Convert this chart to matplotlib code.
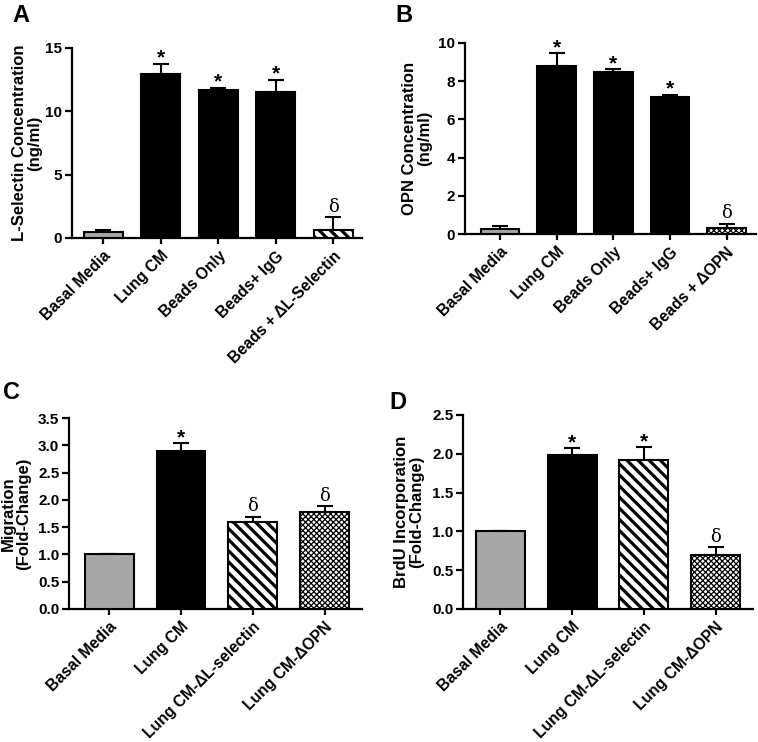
import numpy as np
import matplotlib
matplotlib.use("Agg")
import matplotlib.pyplot as plt
from matplotlib.ticker import FormatStrFormatter

plt.rcParams['font.family'] = ['Liberation Sans', 'DejaVu Sans']
plt.rcParams['font.weight'] = 'bold'

GRAY = '#a6a6a6'

# Panel A - L-Selectin
a_labels = ['Basal Media', 'Lung CM', 'Beads Only', 'Beads+ IgG', 'Beads + \u0394L-Selectin']
a_means = [0.47, 12.93, 11.67, 11.54, 0.66]
a_err = [0.13, 0.84, 0.21, 0.97, 0.97]
a_marks = ['', '*', '*', '*', '\u03b4']

# Panel B - OPN
b_labels = ['Basal Media', 'Lung CM', 'Beads Only', 'Beads+ IgG', 'Beads + \u0394OPN']
b_means = [0.24, 8.80, 8.48, 7.17, 0.31]
b_err = [0.16, 0.66, 0.14, 0.13, 0.23]
b_marks = ['', '*', '*', '*', '\u03b4']

# Panel C - Migration
c_labels = ['Basal Media', 'Lung CM', 'Lung CM-\u0394L-selectin', 'Lung CM-\u0394OPN']
c_means = [1.0, 2.90, 1.60, 1.77]
c_err = [0.0, 0.14, 0.09, 0.11]
c_marks = ['', '*', '\u03b4', '\u03b4']

# Panel D - BrdU
d_labels = ['Basal Media', 'Lung CM', 'Lung CM-\u0394L-selectin', 'Lung CM-\u0394OPN']
d_means = [1.0, 1.99, 1.92, 0.69]
d_err = [0.0, 0.08, 0.17, 0.11]
d_marks = ['', '*', '*', '\u03b4']

# fill style per bar: (facecolor, hatch)
a_styles = [(GRAY, None), ('black', None), ('black', None), ('black', None), ('white', '\\\\\\')]
b_styles = [(GRAY, None), ('black', None), ('black', None), ('black', None), ('white', 'xxxxxx')]
cd_styles = [(GRAY, None), ('black', None), ('white', '\\\\\\'), ('white', 'xxxxxx')]


def panel(ax, labels, means, err, marks, styles, ylim, yticks, ylabel, fmt, xlim):
    x = np.arange(len(means))
    for i, (fc, h) in enumerate(styles):
        lw_h = 2.3 if h and '\\' in h else 0.9
        with plt.rc_context({'hatch.linewidth': lw_h}):
            b = ax.bar(x[i], means[i], width=0.68, color=fc, edgecolor='black',
                       linewidth=1.5, hatch=h, zorder=3)
        if h and hasattr(b[0], 'set_hatch_linewidth'):
            b[0].set_hatch_linewidth(lw_h)
    ax.errorbar(x, means, yerr=[np.zeros(len(err)), err], fmt='none', ecolor='black',
                elinewidth=1.5, capsize=6, capthick=1.5, zorder=2)
    for i, m in enumerate(marks):
        if not m:
            continue
        top = means[i] + err[i]
        if m == '*':
            ax.annotate(m, (x[i], top), xytext=(0, -3), textcoords='offset points',
                        ha='center', va='bottom', fontsize=15, fontweight='bold')
        else:
            ax.annotate(m, (x[i], top), xytext=(0, 1), textcoords='offset points',
                        ha='center', va='bottom', fontsize=13, fontweight='normal',
                        family='DejaVu Serif')
    ax.set_xlim(*xlim)
    ax.set_ylim(*ylim)
    ax.set_yticks(yticks)
    ax.yaxis.set_major_formatter(FormatStrFormatter(fmt))
    ax.set_xticks(x)
    ax.set_xticklabels(labels, rotation=45, ha='right', rotation_mode='anchor',
                       fontsize=11.3, fontweight='bold')
    for t in ax.get_yticklabels():
        t.set_fontsize(11)
        t.set_fontweight('bold')
    ax.spines['top'].set_visible(False)
    ax.spines['right'].set_visible(False)
    ax.spines['left'].set_linewidth(1.6)
    ax.spines['bottom'].set_linewidth(1.6)
    ax.tick_params(axis='y', direction='out', length=5, width=1.6, pad=2)
    ax.tick_params(axis='x', direction='out', length=4.5, width=1.6, pad=3)
    ax.set_ylabel(ylabel, fontsize=12, fontweight='bold', va='center', ha='center',
                  linespacing=1.0)


fig = plt.figure(figsize=(7.58, 7.42), dpi=100)
W, H = 758.0, 742.0


def axes_px(l, t, r, b):
    return fig.add_axes([l / W, 1 - b / H, (r - l) / W, (b - t) / H])


axA = axes_px(72, 48, 362, 238)
panel(axA, a_labels, a_means, a_err, a_marks, a_styles, (0, 15), [0, 5, 10, 15],
      'L-Selectin Concentration\n(ng/ml)', '%d', (-0.54, 4.5))
axA.yaxis.set_label_coords(-0.155, 0.5)

axB = axes_px(465, 43, 756, 234)
panel(axB, b_labels, b_means, b_err, b_marks, b_styles, (0, 10), [0, 2, 4, 6, 8, 10],
      'OPN Concentration\n(ng/ml)', '%d', (-0.62, 4.52))
axB.yaxis.set_label_coords(-0.165, 0.5)

axC = axes_px(69, 418, 362, 609)
panel(axC, c_labels, c_means, c_err, c_marks, cd_styles, (0, 3.5), np.arange(0, 3.51, 0.5),
      'Migration\n(Fold-Change)', '%.1f', (-0.56, 3.52))
axC.yaxis.set_label_coords(-0.181, 0.5)

axD = axes_px(463, 415, 753, 609)
panel(axD, d_labels, d_means, d_err, d_marks, cd_styles, (0, 2.5), np.arange(0, 2.51, 0.5),
      'BrdU Incorporation\n(Fold-Change)', '%.1f', (-0.52, 3.52))
axD.yaxis.set_label_coords(-0.186, 0.5)

for lab, px, py in [('A', 12, 4), ('B', 395, 4), ('C', 3, 381), ('D', 389, 391)]:
    fig.text(px / W, 1 - py / H, lab, fontsize=17, fontweight='bold', va='top', ha='left')

fig.savefig('out.png', dpi=100)
